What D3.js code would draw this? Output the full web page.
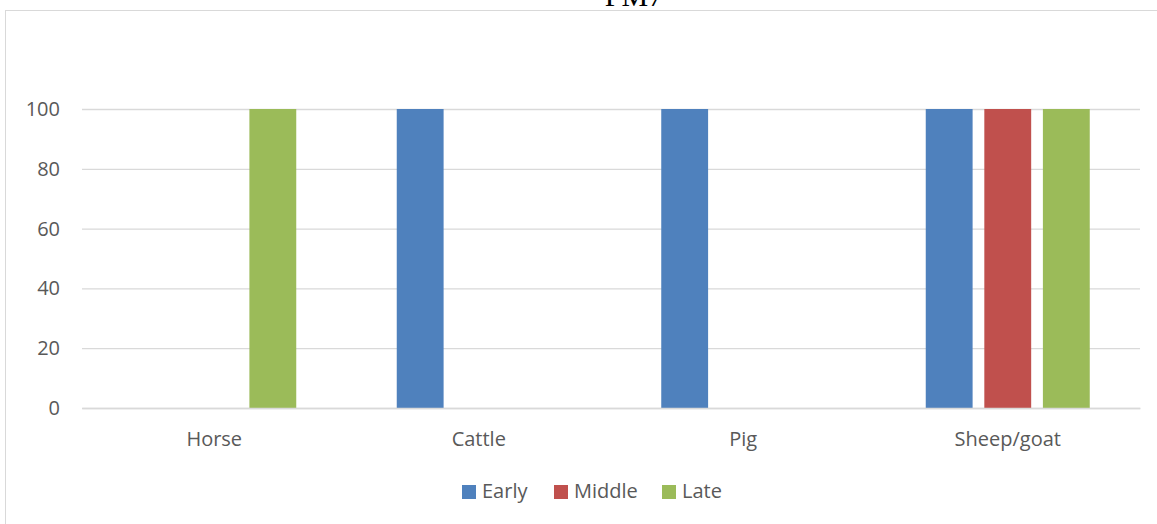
<!DOCTYPE html>
<html>
<head>
<meta charset="utf-8">
<script src="https://cdn.jsdelivr.net/npm/d3@7"></script>
<style>
  html, body { margin: 0; padding: 0; background: #fff; }
  svg { display: block; }
</style>
</head>
<body>
<svg id="chart" width="1157" height="524"></svg>
<script>
// Share of contexts (%) by species and phase
const categories = ["Horse", "Cattle", "Pig", "Sheep/goat"];
const seriesNames = ["Early", "Middle", "Late"];
const early  = [0, 100, 100, 100];
const middle = [0, 0, 0, 100];
const late   = [100, 0, 0, 100];
const yTicks = [0, 20, 40, 60, 80, 100];
const colors = ["#4F81BD", "#C0504D", "#9BBB59"];
const title = "PM7";

const seriesValues = [early, middle, late];
const svg = d3.select("#chart");
const W = 1157, H = 524;
const font = "'Open Sans', 'Liberation Sans', sans-serif";
const textColor = "#595959";
const fontSize = 20;

// outer chart frame (continues past the right and bottom edges)
svg.append("rect")
  .attr("x", 5.5).attr("y", 10.5)
  .attr("width", W + 10).attr("height", H + 10)
  .attr("fill", "none").attr("stroke", "#D9D9D9").attr("stroke-width", 1);

// title, mostly above the visible area
svg.append("text")
  .attr("x", 634).attr("y", 6)
  .attr("text-anchor", "middle")
  .attr("font-family", "'Liberation Serif', 'Times New Roman', serif")
  .attr("font-size", 30)
  .attr("fill", "#000")
  .text(title);

const plot = { left: 82, right: 1140, top: 109, bottom: 408 };

const x = d3.scaleBand()
  .domain(categories)
  .range([plot.left, plot.right]);

const inner = d3.scaleBand()
  .domain(seriesNames)
  .range([0, 164])
  .paddingInner(0.2);

const y = d3.scaleLinear()
  .domain([0, 100])
  .range([plot.bottom, plot.top]);

// horizontal gridlines and y tick labels
const yAxis = d3.axisLeft(y).tickValues(yTicks)
  .tickSize(-(plot.right - plot.left)).tickPadding(22);
const gy = svg.append("g")
  .attr("transform", `translate(${plot.left},0)`)
  .call(yAxis);
gy.select(".domain").remove();
gy.selectAll(".tick line").attr("stroke", "#D9D9D9").attr("stroke-width", 1.3);
gy.selectAll(".tick text")
  .attr("font-family", font).attr("font-size", fontSize).attr("fill", textColor);

// bars
const groups = svg.append("g").selectAll("g")
  .data(categories)
  .join("g")
  .attr("transform", c => `translate(${x(c) + x.bandwidth() / 2 - 82},0)`);

groups.selectAll("rect")
  .data((c, i) => seriesNames.map((s, j) => ({ s, j, v: seriesValues[j][i] })))
  .join("rect")
  .attr("x", d => inner(d.s))
  .attr("width", inner.bandwidth())
  .attr("y", d => y(d.v))
  .attr("height", d => y(0) - y(d.v))
  .attr("fill", d => colors[d.j]);

// x axis baseline and category labels
const xAxis = d3.axisBottom(x).tickSize(0).tickPadding(24);
const gx = svg.append("g")
  .attr("transform", `translate(0,${plot.bottom})`)
  .call(xAxis);
gx.select(".domain").attr("stroke", "#D9D9D9").attr("stroke-width", 1.3);
gx.selectAll(".tick text")
  .attr("font-family", font).attr("font-size", fontSize).attr("fill", textColor);

// legend
const legendX = [462, 554, 662];
const legend = svg.append("g").selectAll("g")
  .data(seriesNames)
  .join("g")
  .attr("transform", (d, i) => `translate(${legendX[i]},485)`);
legend.append("rect")
  .attr("width", 14).attr("height", 14)
  .attr("fill", (d, i) => colors[i]);
legend.append("text")
  .attr("x", 20).attr("y", 13)
  .attr("font-family", font).attr("font-size", fontSize).attr("fill", textColor)
  .text(d => d);
</script>
</body>
</html>
